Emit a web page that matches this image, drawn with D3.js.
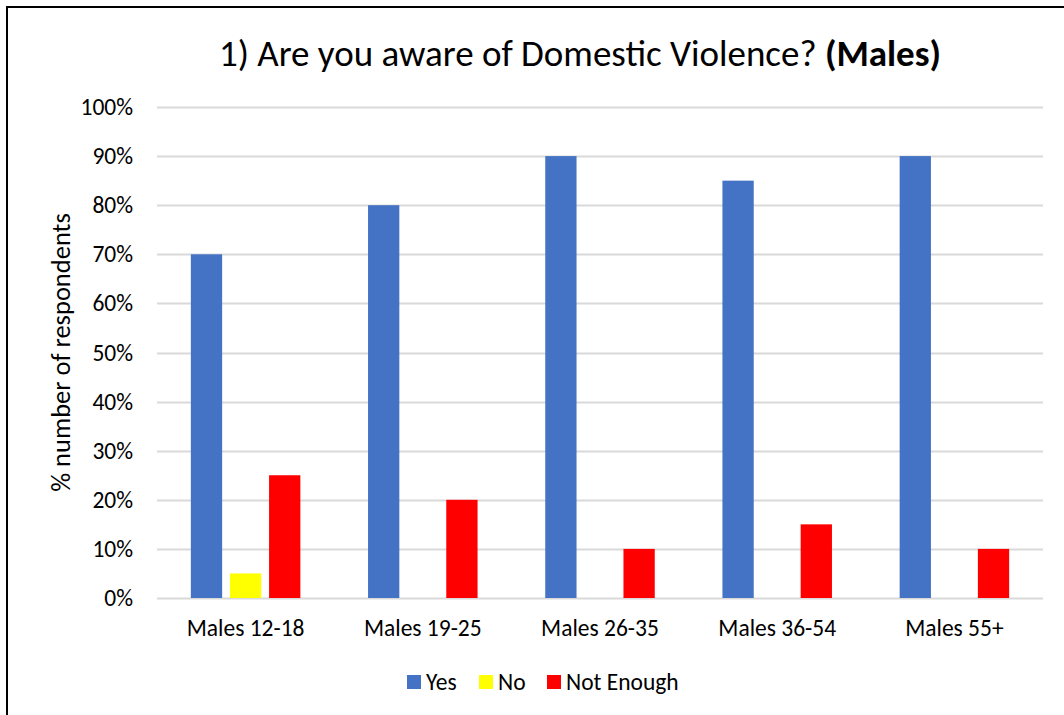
<!DOCTYPE html>
<html>
<head>
<meta charset="utf-8">
<script src="https://cdn.jsdelivr.net/npm/d3@7"></script>
<style>
  body { margin: 0; background: #fff; }
  svg { display: block; font-family: Carlito, Calibri, Lato, sans-serif; }
</style>
</head>
<body>
<script>
// chart data
var categories = ["Males 12-18", "Males 19-25", "Males 26-35", "Males 36-54", "Males 55+"];
var seriesNames = ["Yes", "No", "Not Enough"];
var yesValues = [70, 80, 90, 85, 90];
var noValues = [5, 0, 0, 0, 0];
var notEnoughValues = [25, 20, 10, 15, 10];
var yTicks = [0, 10, 20, 30, 40, 50, 60, 70, 80, 90, 100];
var colors = ["#4472C4", "#FFFF00", "#FF0000"];

window.onload = drawChart();

function drawChart(){
    var width = 1064,
        height = 715;

    var svg = d3.select("body")
        .append("svg")
        .attr("width", width)
        .attr("height", height);

    // outer frame (only top and left edges show)
    svg.append("rect")
        .attr("x", 7)
        .attr("y", 7)
        .attr("width", width + 20)
        .attr("height", height + 20)
        .attr("fill", "#fff")
        .attr("stroke", "#000")
        .attr("stroke-width", 2);

    var plot = {left: 157, right: 1043, top: 107, bottom: 598};

    var valuesBySeries = [yesValues, noValues, notEnoughValues];
    var rows = categories.map(function(c, i){
        return {cat: c, vals: seriesNames.map(function(s, j){
            return {series: s, value: valuesBySeries[j][i], color: colors[j]};
        })};
    });

    var x0 = d3.scaleBand()
        .domain(categories)
        .range([plot.left, plot.right])
        .paddingInner(0.382)
        .paddingOuter(0.191);

    var x1 = d3.scaleBand()
        .domain(seriesNames)
        .range([0, x0.bandwidth()])
        .paddingInner(0.2);

    var y = d3.scaleLinear()
        .domain([0, 100])
        .range([plot.bottom, plot.top]);

    // gridlines
    svg.append("g")
        .selectAll("line")
        .data(yTicks)
        .enter()
        .append("line")
        .attr("x1", plot.left)
        .attr("x2", plot.right)
        .attr("y1", function(d){ return Math.round(y(d)) + 0.5; })
        .attr("y2", function(d){ return Math.round(y(d)) + 0.5; })
        .attr("stroke", "#D9D9D9")
        .attr("stroke-width", 2);

    // y axis labels
    var yAxis = d3.axisLeft(y)
        .tickValues(yTicks)
        .tickSize(0)
        .tickPadding(24)
        .tickFormat(function(d){ return d + "%"; });

    var gy = svg.append("g")
        .attr("transform", "translate(" + plot.left + ",0)")
        .call(yAxis);
    gy.select(".domain").remove();
    gy.selectAll("text")
        .attr("font-family", "Carlito, Calibri, Lato, sans-serif")
        .attr("font-size", 23.5)
        .attr("fill", "#000");

    // bars
    var groups = svg.append("g")
        .selectAll("g")
        .data(rows)
        .enter()
        .append("g")
        .attr("transform", function(d){ return "translate(" + x0(d.cat) + ",0)"; });

    groups.selectAll("rect")
        .data(function(d){ return d.vals; })
        .enter()
        .append("rect")
        .attr("x", function(d){ return x1(d.series); })
        .attr("width", x1.bandwidth())
        .attr("y", function(d){ return y(d.value); })
        .attr("height", function(d){ return y(0) - y(d.value); })
        .attr("fill", function(d){ return d.color; });

    // category labels
    var xAxis = d3.axisBottom(x0)
        .tickSize(0)
        .tickPadding(21);

    var gx = svg.append("g")
        .attr("transform", "translate(0," + plot.bottom + ")")
        .call(xAxis);
    gx.select(".domain").remove();
    gx.selectAll("text")
        .attr("font-family", "Carlito, Calibri, Lato, sans-serif")
        .attr("font-size", 23.5)
        .attr("fill", "#000");

    // title
    var title = svg.append("text")
        .attr("x", 580)
        .attr("y", 66)
        .attr("text-anchor", "middle")
        .attr("font-size", 37)
        .attr("fill", "#000");
    title.append("tspan").text("1) Are you aware of Domestic Violence? ");
    title.append("tspan").attr("font-weight", "bold").text("(Males)");

    // y axis title
    svg.append("text")
        .attr("transform", "translate(70," + ((plot.top + plot.bottom) / 2) + ") rotate(-90)")
        .attr("text-anchor", "middle")
        .attr("font-size", 26.5)
        .attr("fill", "#000")
        .text("% number of respondents");

    // legend
    var legendX = [407, 479, 547];
    var legend = svg.append("g")
        .selectAll("g")
        .data(seriesNames)
        .enter()
        .append("g")
        .attr("transform", function(d, i){ return "translate(" + legendX[i] + ",675)"; });

    legend.append("rect")
        .attr("width", 14)
        .attr("height", 14)
        .attr("fill", function(d, i){ return colors[i]; });

    legend.append("text")
        .attr("x", 19)
        .attr("y", 14.5)
        .attr("font-size", 23.5)
        .attr("fill", "#000")
        .text(function(d){ return d; });
}
</script>
</body>
</html>
